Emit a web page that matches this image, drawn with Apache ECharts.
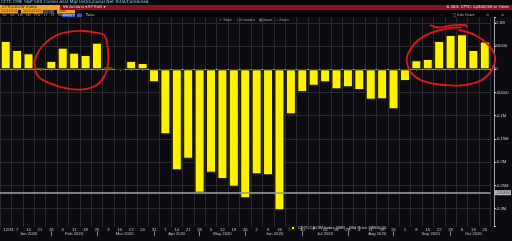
<!DOCTYPE html>
<html><head><meta charset="utf-8">
<script src="https://cdn.jsdelivr.net/npm/echarts@6/dist/echarts.min.js"></script>
<style>html,body{margin:0;padding:0;background:#0c0c10;}#c{width:512px;height:241px;}</style>
</head><body><div id="c"></div>
<script>
// Weekly CFTC report dates (Tuesdays)
const categories = ['2019-12-31','2020-01-07','2020-01-14','2020-01-21','2020-01-28','2020-02-04','2020-02-11','2020-02-18','2020-02-25','2020-03-03','2020-03-10','2020-03-17','2020-03-24','2020-03-31','2020-04-07','2020-04-14','2020-04-21','2020-04-28','2020-05-05','2020-05-12','2020-05-19','2020-05-26','2020-06-02','2020-06-09','2020-06-16','2020-06-23','2020-06-30','2020-07-07','2020-07-14','2020-07-21','2020-07-28','2020-08-04','2020-08-11','2020-08-18','2020-08-25','2020-09-01','2020-09-08','2020-09-15','2020-09-22','2020-09-29','2020-10-06','2020-10-13','2020-10-20'];
const dayTickLabels = ['12/31','7','14','21','28','4','11','18','25','3','10','17','24','31','7','14','21','28','5','12','19','26','2','9','16','23','30','7','14','21','28','4','11','18','25','1','8','15','22','29','6','13','20'];
// Net position (contracts)
const netPositions = [60900, 41600, 34400, 5000, 18000, 46600, 35800, 30800, 57300, 5600, 1000, 18000, 13500, -28000, -140000, -217500, -192500, -265800, -222700, -236300, -252800, -277800, -226100, -228300, -303700, -97000, -48900, -35300, -28000, -43100, -38700, -44600, -65400, -64600, -86100, -25200, 19400, 22200, 60900, 73900, 75400, 41600, 59800];
const monthLabels = ['Jan 2020','Feb 2020','Mar 2020','Apr 2020','May 2020','Jun 2020','Jul 2020','Aug 2020','Sep 2020','Oct 2020'];
const monthLabelIndex = [2, 6, 11, 15, 19, 24, 28, 33, 37, 41];
const monthEndIndex = [4, 8, 13, 17, 21, 26, 30, 34, 39];
const hLineValue = -265800;
const seriesName = 'CFTCCAOW Index (SIE) - Mid Price ' + netPositions[netPositions.length-1].toFixed(2);

const chart = echarts.init(document.getElementById('c'), null, {renderer:'canvas'});
const FONT = 'Liberation Sans';
const grid = '#2a2a30';

function yFmt(v){
  if (Math.abs(v % 50000) > 1 || v < -300000 || v > 100000) return '';
  if (v === 0) return '0';
  if (Math.abs(v) < 100000) return String(v);
  return (v/1e6) + 'M';
}

const mShift = {11:'l', 24:'m', 33:'m', 37:'r'};

const red = '#e5141b';
function pl(points){
  return {type:'polyline', shape:{points, smooth:0.4}, style:{stroke:red, lineWidth:1.8, fill:null}, z:100};
}
function txt(x,y,t,color,size,extra){
  return Object.assign({type:'text', x, y, style:{text:t, fill:color, font:(size||4.5)+'px "DejaVu Sans"'}, z:50}, extra||{});
}
function box(x,y,w,h,color){
  return {type:'rect', shape:{x,y,width:w,height:h}, style:{fill:color}, z:40};
}

const graphics = [
  box(0,0,512,17,'#050507'),
  txt(1,0.3,'CFTC CME S&P 500 Consol Asst Mgr Institutional Net Total/Combined','#8fd8f2',4.3),
  box(0,5,60,5,'#f0a127'),
  txt(2,5.4,'CFTCCAOW Index','#3a1a00',4),
  box(60,5,452,5,'#8c1020'),
  txt(63,5.4,'96 Actions \u25BE','#f2d0d0',4),
  txt(88,5.4,'97 Edit \u25BE','#f2d0d0',4),
  txt(509,5.4,'6.384: CFTC: sp500/38-or trees','#f5e0e0',4,{style:{text:'6.384: CFTC: sp500/38-or trees',fill:'#f5e0e0',font:'4px "DejaVu Sans"',align:'right'}}),
  box(0,10,18,3.5,'#f0a127'),
  txt(1,10.1,'12/31/2019','#3a1a00',3.3),
  box(21,10,22,3.5,'#f0a127'),
  txt(23,10.1,'10/20/2020','#3a1a00',3.3),
  box(43.5,10,5,3.5,'#4a4a50'),
  box(49,10,5,3.5,'#4a4a50'),
  box(57,10,18,3.5,'#f0a127'),
  txt(59,10.1,'Last','#3a1a00',3.3),
  txt(2,13.6,'1D   3D   1M   6M   YTD   1Y   5Y   Max','#b0b0b8',3.3),
  box(62,13.5,13,3.6,'#2c5cc8'),
  txt(63.5,13.6,'Daily \u25BE','#e8eeff',3.3),
  box(77,13.5,5,3.6,'#2c5cc8'),
  txt(86,13.6,'Table','#c0c0c8',3.3),
  txt(219,18.8,'+ Track','#a0a0a8',3.4),
  txt(237,18.8,'\u2215 Annotate','#a0a0a8',3.4),
  txt(259,18.8,'\u25A4 News','#a0a0a8',3.4),
  txt(276,18.8,'\u2315 Zoom','#a0a0a8',3.4),
  txt(441,13.6,'\u2039','#a0a0a8',3.4),
  txt(453,13.6,'\u25A1 Edit Chart','#c0c0c8',3.4),
  txt(486,13.6,'\u2699','#a0a0a8',3.4),
  txt(501,13.6,'\u2699','#a0a0a8',3.4),
  // hand-drawn red circles
  pl([[105,35],[96.7,32.7],[83.3,31],[70,31.7],[56.7,35],[43.3,45],[36,56.7],[34.7,66.7],[38.3,76.7],[50,83.3],[66.7,88.3],[83.3,89.3],[96.7,85],[105,75],[108.3,60],[107.3,45],[106,38.3],[104.3,35]]),
  pl([[458.3,30],[475,35],[488.3,45],[495,56.7],[491.7,70],[481.7,80],[465,85],[445,85],[425,81.7],[411.7,73.3],[406.7,60],[410,50],[418.3,40],[431.7,32.7],[448.3,28.3],[461.7,27.3]]),
  pl([[430,25],[438.3,27.5],[451.7,25.5],[465,25],[467,27.5]])
];

const option = {
  backgroundColor: '#0c0c10',
  animation: false,
  textStyle: {fontFamily: FONT},
  grid: {left: -1.5, right: 21.5, top: 17.3, bottom: 14.3, containLabel: false},
  legend: {
    show: true, left: 285, top: 220, itemWidth: 4, itemHeight: 4, icon: 'rect',
    textStyle: {color: '#d8d8d8', fontSize: 4.3, fontFamily: FONT, padding:[0,0,0,-2]},
    data: [seriesName]
  },
  xAxis: [{
    type: 'category', data: categories, position: 'bottom',
    axisLine: {show: true, lineStyle: {color: '#9a9aa0', width: 1}},
    axisTick: {show: true, alignWithLabel: true, length: 1.5, lineStyle: {color: '#777'}},
    splitLine: {show: true, lineStyle: {color: grid, width: 1}},
    axisLabel: {
      interval: 0, fontSize: 4.2, color: '#c8c8c8', margin: 1.5, fontFamily: FONT,
      formatter: (v, i) => i === 0 ? '{f|' + dayTickLabels[i] + '}' : dayTickLabels[i],
      rich: {f: {fontSize: 4.2, color: '#c8c8c8', padding: [0,0,0,6]}}
    }
  }, {
    type: 'category', data: categories, position: 'bottom', offset: 4.5,
    axisLine: {show: false},
    axisTick: {show: true, alignWithLabel: true, length: 5, lineStyle: {color: '#8a8a90'},
      interval: (i) => monthEndIndex.indexOf(i) >= 0},
    splitLine: {show: false},
    axisLabel: {
      interval: 0, fontSize: 4.2, color: '#c8c8c8', margin: 1, fontFamily: FONT,
      formatter: (v, i) => {
        const k = monthLabelIndex.indexOf(i);
        if (k < 0) return '';
        const s = mShift[i];
        return s ? '{' + s + '|' + monthLabels[k] + '}' : monthLabels[k];
      },
      rich: {
        l: {fontSize: 4.2, color: '#c8c8c8', padding: [0,13,0,0]},
        m: {fontSize: 4.2, color: '#c8c8c8', padding: [0,10,0,0]},
        r: {fontSize: 4.2, color: '#c8c8c8', padding: [0,0,0,6]}
      }
    }
  }],
  yAxis: {
    type: 'value', position: 'right', offset: 3.5,
    min: -339000, max: 112000, splitNumber: 9,
    axisLine: {show: true, lineStyle: {color: '#a0a0a8', width: 1}},
    axisTick: {show: true, length: 2, lineStyle: {color: '#c0c0c0'}},
    splitLine: {show: true, showMinLine: false, showMaxLine: false, lineStyle: {color: grid, width: 1}},
    axisLabel: {fontSize: 4.2, color: '#d0d0d0', margin: 1.5, fontFamily: FONT, formatter: yFmt}
  },
  series: [{
    name: seriesName, type: 'bar', data: netPositions, barWidth: 10,
    itemStyle: {color: '#fff200', borderColor: '#1a1800', borderWidth: 1},
    markLine: {
      silent: true, symbol: ['none','none'], animation: false,
      data: [
        {yAxis: hLineValue, lineStyle: {color: '#9a9a9a', width: 2, type: 'solid', opacity: 0.8},
          label: {show: true, position: 'end', distance: 4.5, formatter: String(hLineValue), fontSize: 3.8, color: '#111',
            backgroundColor: '#e8e8e8', padding: [0.5, 1]}},
        {yAxis: netPositions[netPositions.length-1], lineStyle: {opacity: 0},
          label: {show: true, position: 'end', distance: 4.5, formatter: netPositions[netPositions.length-1].toFixed(2), fontSize: 3.8, color: '#111',
            backgroundColor: '#f5e800', padding: [0.5, 1]}}
      ]
    }
  }],
  graphic: graphics
};
chart.setOption(option);
</script></body></html>
